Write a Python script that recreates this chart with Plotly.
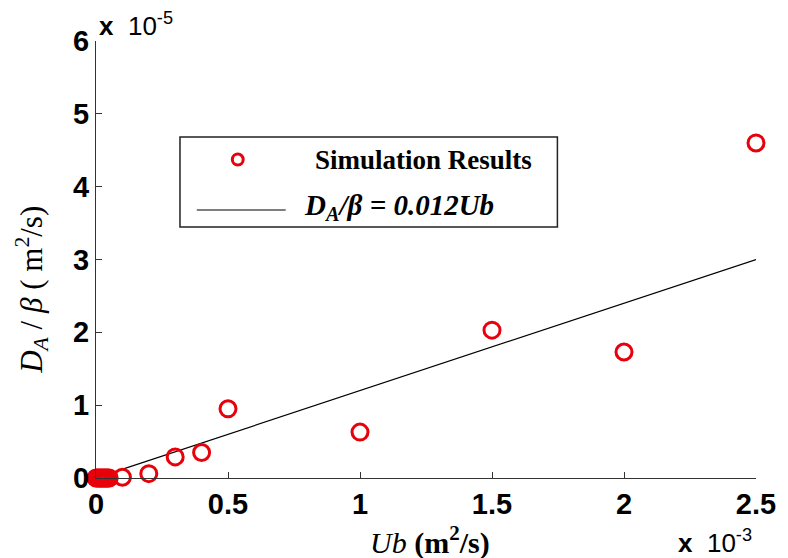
import plotly.graph_objects as go

# ---- data (Ub in m^2/s, D_A/beta in m^2/s) ----
ub_sim = [0.0, 0.000005, 0.00001, 0.000015, 0.00002, 0.000025, 0.00003, 0.000035,
          0.00004, 0.000045, 0.00005, 0.0001, 0.0002, 0.0003, 0.0004, 0.0005,
          0.001, 0.0015, 0.002, 0.0025]
da_sim = [0.0, 0.0, 0.0, 0.0, 0.0, 0.0, 0.0, 0.0,
          0.0, 0.0, 0.0, 0.01e-5, 0.06e-5, 0.29e-5, 0.35e-5, 0.95e-5,
          0.63e-5, 2.03e-5, 1.73e-5, 4.6e-5]
ub_fit = [0.0, 0.0025]
slope = 0.012
da_fit = [slope * u for u in ub_fit]

x_tickvals = [0, 0.0005, 0.001, 0.0015, 0.002, 0.0025]
x_ticktext = ["0", "0.5", "1", "1.5", "2", "2.5"]
y_tickvals = [0, 1e-5, 2e-5, 3e-5, 4e-5, 5e-5, 6e-5]
y_ticktext = ["0", "1", "2", "3", "4", "5", "6"]

OFF = 8  # page body margin
W, H = 788 - OFF, 558 - OFF
L, R, T, B = 96 - OFF, 764 - OFF, 41 - OFF, 478 - OFF


def px(x):
    return (x - OFF - L) / (R - L)


def py(y):
    return (B - (y - OFF)) / (B - T)


RED = "#e8000b"
AXC = "#333333"

fig = go.Figure()
fig.add_trace(go.Scatter(x=ub_fit, y=da_fit, mode="lines",
                         line=dict(color="black", width=1.2),
                         showlegend=False, cliponaxis=False))
fig.add_trace(go.Scatter(x=ub_sim, y=da_sim, mode="markers",
                         marker=dict(symbol="circle-open", size=16, color=RED,
                                     line=dict(width=3, color=RED)),
                         showlegend=False, cliponaxis=False))

tickfont = dict(family="Liberation Sans, Arial", size=29, color="black", weight="bold")
fig.update_xaxes(range=[0, 0.0025], tickvals=x_tickvals, ticktext=x_ticktext,
                 ticks="inside", ticklen=6, tickcolor=AXC, showline=True,
                 linecolor=AXC, linewidth=1.2, showgrid=False, zeroline=False,
                 tickfont=tickfont, ticklabelstandoff=0)
fig.update_yaxes(range=[0, 6e-5], tickvals=y_tickvals, ticktext=y_ticktext,
                 ticks="inside", ticklen=6, tickcolor=AXC, showline=True,
                 linecolor=AXC, linewidth=1.2, showgrid=False, zeroline=False,
                 tickfont=tickfont)

ann = []
serif = "Liberation Serif, Times New Roman"


def note(x, y, text, font, xanchor="center", angle=0):
    ann.append(dict(xref="paper", yref="paper", x=px(x), y=py(y), text=text,
                    showarrow=False, xanchor=xanchor, yanchor="middle",
                    textangle=angle, font=font))


# axis titles
note(434, 540, "<i>Ub</i> <b>(m<sup>2</sup>/s)</b>",
     dict(family=serif, size=30, color="black"))
note(31, 290, "<i>D<sub>A</sub></i> / <i>β</i> ( m<sup>2</sup>/s)",
     dict(family=serif, size=31, color="black"), angle=-90)
# exponent labels
note(97, 25, "<b>x</b>  10<sup>-5</sup>",
     dict(family="Liberation Sans, Arial", size=26, color="black"), xanchor="left")
note(683, 541, "<b>x</b>  10<sup>-3</sup>",
     dict(family="Liberation Sans, Arial", size=26, color="black"), xanchor="left")
# legend texts
note(316, 160, "<b>Simulation Results</b>",
     dict(family=serif, size=27, color="black"), xanchor="left")
note(305, 207, "<b><i>D<sub>A</sub>/β = 0.012Ub</i></b>",
     dict(family=serif, size=29, color="black"), xanchor="left")

shapes = [
    dict(type="rect", xref="paper", yref="paper", x0=px(181), x1=px(563),
         y0=py(137), y1=py(227), line=dict(color="#222222", width=1.5),
         fillcolor="white", layer="above"),
    dict(type="line", xref="paper", yref="paper", x0=px(198), x1=px(288),
         y0=py(210), y1=py(210), line=dict(color="black", width=1.2)),
    dict(type="circle", xref="paper", yref="paper", x0=px(234), x1=px(245),
         y0=py(154), y1=py(165), line=dict(color=RED, width=3)),
]

fig.update_layout(width=W, height=H, margin=dict(l=L, r=W - R, t=T, b=H - B),
                  plot_bgcolor="white", paper_bgcolor="white",
                  annotations=ann, shapes=shapes, showlegend=False)
fig.write_html("out.html")
